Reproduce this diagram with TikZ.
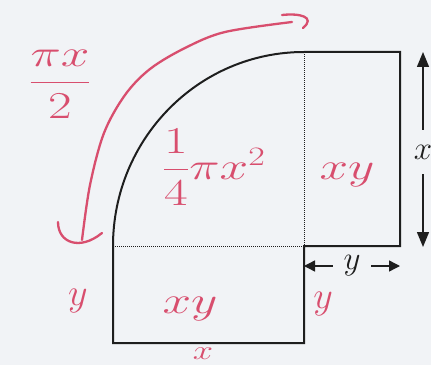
\RequirePackage{fix-cm}
\documentclass[tikz,border=0pt]{standalone}
\usepackage{amsmath}
\usepackage{graphicx}
\usepackage{fontspec}
\usetikzlibrary{arrows.meta}
\definecolor{inkred}{RGB}{216,78,110}
\definecolor{paper}{RGB}{241,243,246}
\definecolor{pen}{RGB}{30,30,30}
\newcommand{\wide}[1]{\scalebox{1.35}[1]{#1}}
\begin{document}
\begin{tikzpicture}[x=1pt,y=1pt,
  outline/.style={draw=pen,line width=2pt,line join=miter},
  dotline/.style={draw=pen,line width=1pt,dash pattern=on 1pt off 1pt},
  dimarrow/.style={draw=pen,line width=1.4pt,-{Triangle[length=15pt,width=12pt]}},
  smallarrow/.style={draw=pen,line width=1.4pt,-{Triangle[length=11pt,width=11pt]}},
  redink/.style={draw=inkred,line width=2.3pt,line cap=round,line join=round},
  redlabel/.style={text=inkred,inner sep=0pt,font=\fontsize{38}{44}\selectfont},
  blacklabel/.style={text=pen,inner sep=0pt,font=\fontsize{33}{38}\selectfont}]
\fill[paper] (0,0) rectangle (431,365);
\useasboundingbox (0,0) rectangle (431,365);
% shape
\coordinate (C) at (304,119);
\coordinate (L) at (113,119);
\coordinate (T) at (304,313);
\coordinate (TR) at (400,313);
\coordinate (BR) at (400,119);
\coordinate (BL) at (113,22);
\coordinate (BM) at (304,22);
\draw[outline] (L) arc[start angle=180,end angle=90,x radius=191,y radius=194]
  -- (TR) -- (BR) -- (C) -- (BM) -- (BL) -- cycle;
\draw[dotline] (L) -- (C) -- (T);
% x dimension
\node[blacklabel,minimum height=44pt] (xl) at (423,213) {$x$};
\coordinate (xt) at (423,313);
\coordinate (xb) at (423,118);
\draw[dimarrow] (xl) -- (xt);
\draw[dimarrow] (xl) -- (xb);
% y dimension
\node[blacklabel,minimum width=38pt] (yl) at (352,99) {$y$};
\coordinate (yL) at (304,99);
\coordinate (yR) at (400,99);
\draw[smallarrow] (yl) -- (yL);
\draw[smallarrow] (yl) -- (yR);
% red annotations
\node[redlabel] (pihalf) at (60,281) {\wide{$\dfrac{\pi x}{2}$}};
\node[redlabel] (area) at (214,198) {\wide{$\dfrac{1}{4}\pi x^{2}$}};
\node[redlabel] (xyR) at (347,190) {\wide{$xy$}};
\node[redlabel] (xyB) at (190,56) {\wide{$xy$}};
\node[redlabel] (yA) at (78,64) {$y$};
\node[redlabel] (yB) at (323,61) {$y$};
\node[redlabel,font=\fontsize{27}{32}\selectfont] (xC) at (203,11) {\wide{$x$}};
\coordinate (arcS) at (82,125);
\coordinate (arcE) at (292,343);
\draw[redink] plot[smooth,tension=0.55] coordinates {(arcS) (90,180) (104,232) (125,270) (150,296) (185,317) (225,333) (arcE)};
\draw[redink] (58,143) .. controls (58,122) and (80,114) .. (102,132);
\draw[redink] (282,350) .. controls (300,352) and (316,348) .. (303,337);
\end{tikzpicture}
\end{document}
